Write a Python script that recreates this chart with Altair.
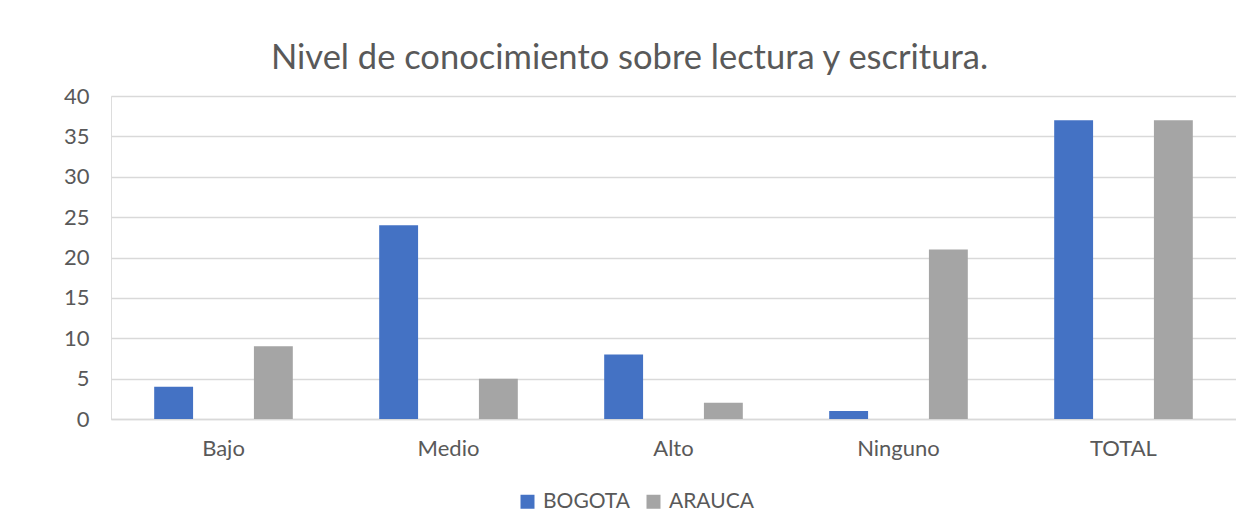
import altair as alt
import pandas as pd

categories = ["Bajo", "Medio", "Alto", "Ninguno", "TOTAL"]
series = ["BOGOTA", "ARAUCA"]
bogota = [4, 24, 8, 1, 37]
arauca = [9, 5, 2, 21, 37]

rows = []
for i, c in enumerate(categories):
    rows.append({"cat": c, "serie": "BOGOTA", "val": bogota[i]})
    rows.append({"cat": c, "serie": "ARAUCA", "val": arauca[i]})
df = pd.DataFrame(rows)

FONT = "Lato"
TXT = "#595959"

chart = alt.Chart(df).mark_bar().encode(
    x=alt.X("cat:N", sort=categories, title=None,
            scale=alt.Scale(paddingInner=0, paddingOuter=0),
            axis=alt.Axis(labelAngle=0, ticks=False, domain=True, domainColor="#d9d9d9",
                          domainWidth=1.5, labelPadding=19, labelFontSize=22,
                          labelColor=TXT, labelFont=FONT, grid=False)),
    xOffset=alt.XOffset("serie:N", sort=series,
                        scale=alt.Scale(paddingInner=0.61, paddingOuter=0.433)),
    y=alt.Y("val:Q", title=None,
            scale=alt.Scale(domain=[0, 40], nice=False),
            axis=alt.Axis(values=[0, 5, 10, 15, 20, 25, 30, 35, 40], ticks=False, domain=False,
                          gridColor="#d9d9d9", gridWidth=1.5, labelPadding=22,
                          labelFontSize=22, labelColor=TXT, labelFont=FONT)),
    color=alt.Color("serie:N", sort=series,
                    scale=alt.Scale(domain=series, range=["#4472C4", "#A5A5A5"]),
                    legend=alt.Legend(title=None, orient="none", direction="horizontal",
                                      legendX=406, legendY=395, symbolType="square",
                                      symbolSize=196, symbolStrokeWidth=0,
                                      labelFontSize=21, labelColor=TXT, labelFont=FONT,
                                      labelOffset=5, columnPadding=12)),
).properties(
    width=1125,
    height=323,
    title=alt.TitleParams("Nivel de conocimiento sobre lectura y escritura.",
                          fontSize=34.5, font=FONT, color=TXT, fontWeight="normal",
                          anchor="middle", dx=-44, offset=9),
    autosize=alt.AutoSizeParams(type="none"),
    padding={"left": 103, "top": 88, "right": 0, "bottom": 105},
).configure_view(stroke=None).configure(background="white")

chart.save("out.html", embed_options={"renderer": "svg", "actions": False})
